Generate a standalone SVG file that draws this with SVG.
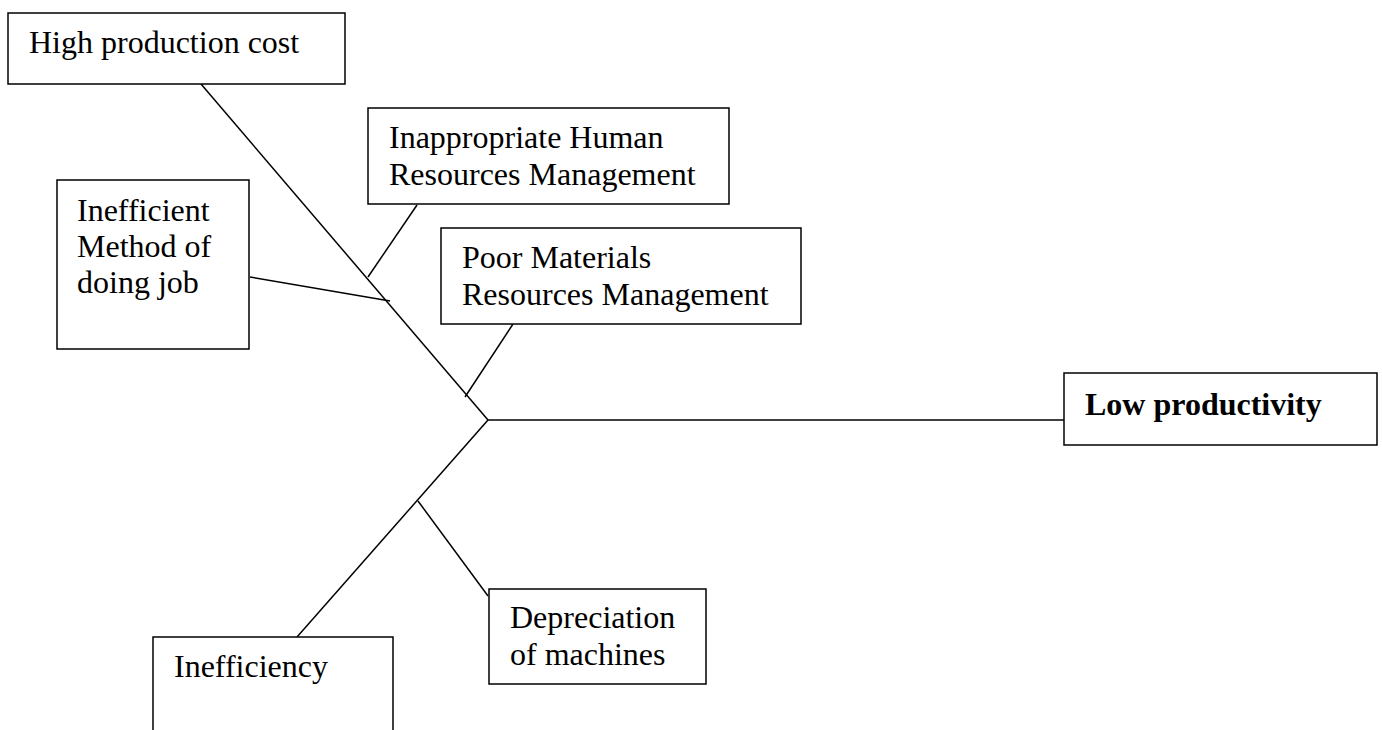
<svg xmlns="http://www.w3.org/2000/svg" width="1382" height="730" viewBox="0 0 1382 730">
<style>
.box{fill:#fff;stroke:#000;stroke-width:1.5}
.t{font-family:"Liberation Serif","Times New Roman",serif;font-size:32px;fill:#000}
.b{font-weight:bold}
.c{stroke:#000;stroke-width:1.5;fill:none}
</style>
<rect width="1382" height="730" fill="#fff"/>
<g id="connectors">
<line class="c" x1="201" y1="84" x2="488" y2="420"/>
<line class="c" x1="488" y1="420" x2="297" y2="637"/>
<line class="c" x1="488" y1="420" x2="1064" y2="420"/>
<line class="c" x1="417" y1="205" x2="368" y2="277"/>
<line class="c" x1="250" y1="277" x2="390" y2="301"/>
<line class="c" x1="513" y1="324" x2="465" y2="397"/>
<line class="c" x1="418" y1="501" x2="488" y2="596"/>
</g>
<g id="high-production-cost">
<rect class="box" x="8" y="13" width="337" height="71"/>
<text class="t" x="29" y="53">High production cost</text>
</g>
<g id="inappropriate-hrm">
<rect class="box" x="368" y="108" width="361" height="96"/>
<text class="t" x="389" y="148">Inappropriate Human</text>
<text class="t" x="389" y="185">Resources Management</text>
</g>
<g id="inefficient-method">
<rect class="box" x="57" y="180" width="192" height="169"/>
<text class="t" x="77" y="221">Inefficient</text>
<text class="t" x="77" y="257">Method of</text>
<text class="t" x="77" y="293">doing job</text>
</g>
<g id="poor-materials">
<rect class="box" x="441" y="228" width="360" height="96"/>
<text class="t" x="462" y="268">Poor Materials</text>
<text class="t" x="462" y="305">Resources Management</text>
</g>
<g id="low-productivity">
<rect class="box" x="1064" y="373" width="313" height="72"/>
<text class="t b" x="1085" y="415">Low productivity</text>
</g>
<g id="depreciation">
<rect class="box" x="489" y="589" width="217" height="95"/>
<text class="t" x="510" y="628">Depreciation</text>
<text class="t" x="510" y="665">of machines</text>
</g>
<g id="inefficiency">
<rect class="box" x="153" y="637" width="240" height="110"/>
<text class="t" x="174" y="677">Inefficiency</text>
</g>
</svg>
